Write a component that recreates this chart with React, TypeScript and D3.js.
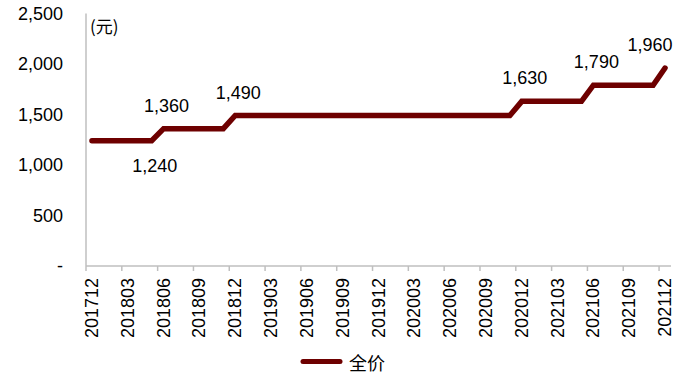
import { useEffect, useRef } from 'react';
import * as d3 from 'd3';

// monthly categories, 201712 .. 202112
const months = [
  '201712', '201801', '201802', '201803', '201804', '201805', '201806', '201807', '201808', '201809',
  '201810', '201811', '201812', '201901', '201902', '201903', '201904', '201905', '201906', '201907',
  '201908', '201909', '201910', '201911', '201912', '202001', '202002', '202003', '202004', '202005',
  '202006', '202007', '202008', '202009', '202010', '202011', '202012', '202101', '202102', '202103',
  '202104', '202105', '202106', '202107', '202108', '202109', '202110', '202111', '202112',
];

// 全价 (元)
const fullPrice = [
  1240, 1240, 1240, 1240, 1240, 1240, 1360, 1360, 1360, 1360,
  1360, 1360, 1490, 1490, 1490, 1490, 1490, 1490, 1490, 1490,
  1490, 1490, 1490, 1490, 1490, 1490, 1490, 1490, 1490, 1490,
  1490, 1490, 1490, 1490, 1490, 1490, 1630, 1630, 1630, 1630,
  1630, 1630, 1790, 1790, 1790, 1790, 1790, 1790, 1960,
];

const yTicks = [0, 500, 1000, 1500, 2000, 2500];
// months that carry a value label; the first one sits below the line
const labelMonths = ['201805', '201806', '201812', '202012', '202106', '202112'];
const labelBelow = ['201805'];

const seriesName = '全价';
const unitLabel = '(元)';

export default function App() {
  const svgRef = useRef<SVGSVGElement>(null);

  useEffect(() => {
    document.body.style.margin = '0';
    const width = 700;
    const height = 389;
    const margin = { top: 13.5, right: 29, bottom: 123, left: 86 };
    const color = '#6e0000';
    const font = '"Liberation Sans", Arial, sans-serif';
    const cjk = '"Noto Sans CJK SC", sans-serif';

    const svg = d3.select(svgRef.current!);
    svg.selectAll('*').remove();

    const x = d3.scaleBand<string>().domain(months)
      .range([margin.left, width - margin.right]);
    const y = d3.scaleLinear().domain([0, 2500])
      .range([height - margin.bottom, margin.top]);
    const cx = (m: string) => (x(m) ?? 0) + x.bandwidth() / 2;
    const y0 = y(0);

    // axes
    svg.append('line')
      .attr('x1', margin.left).attr('x2', margin.left)
      .attr('y1', y(2500)).attr('y2', y0)
      .attr('stroke', '#bfbfbf').attr('stroke-width', 1.5);
    svg.append('line')
      .attr('x1', margin.left).attr('x2', width - margin.right)
      .attr('y1', y0).attr('y2', y0)
      .attr('stroke', '#bfbfbf').attr('stroke-width', 1.5);

    // x ticks every 3 months, at the left edge of the category
    const shown = months.filter((_, i) => i % 3 === 0);
    svg.append('g').selectAll('line').data(shown).join('line')
      .attr('x1', d => x(d)!).attr('x2', d => x(d)!)
      .attr('y1', y0).attr('y2', y0 + 5)
      .attr('stroke', '#bfbfbf').attr('stroke-width', 1.5);

    svg.append('g').selectAll('text').data(shown).join('text')
      .attr('transform', d => `translate(${cx(d)},${y0 + 12}) rotate(-90)`)
      .attr('text-anchor', 'end')
      .attr('dominant-baseline', 'central')
      .style('font-family', font).style('font-size', '18px').attr('fill', '#000')
      .text(d => d);

    // y tick labels
    const fmt = d3.format(',');
    svg.append('g').selectAll('text').data(yTicks).join('text')
      .attr('x', 63).attr('y', d => y(d))
      .attr('text-anchor', 'end')
      .attr('dominant-baseline', 'central')
      .style('font-family', font).style('font-size', '18px').attr('fill', '#000')
      .text(d => (d === 0 ? '-' : fmt(d)));

    svg.append('text')
      .attr('x', 90).attr('y', 25)
      .attr('dominant-baseline', 'central')
      .style('font-family', cjk).style('font-size', '17px').attr('fill', '#000')
      .text(unitLabel);

    // line
    const line = d3.line<number>()
      .x((_, i) => cx(months[i]))
      .y(d => y(d));
    svg.append('path')
      .datum(fullPrice)
      .attr('d', line)
      .attr('fill', 'none')
      .attr('stroke', color)
      .attr('stroke-width', 5.5)
      .attr('stroke-linejoin', 'miter')
      .attr('stroke-linecap', 'round');

    // value labels
    svg.append('g').selectAll('text').data(labelMonths).join('text')
      .attr('x', m => cx(m) + (m === '202112' ? -15 : 3))
      .attr('y', m => {
        const v = fullPrice[months.indexOf(m)];
        return y(v) + (labelBelow.includes(m) ? 25 : -23);
      })
      .attr('text-anchor', 'middle')
      .attr('dominant-baseline', 'central')
      .style('font-family', font).style('font-size', '18px').attr('fill', '#000')
      .text(m => fmt(fullPrice[months.indexOf(m)]));

    // legend
    const lg = svg.append('g');
    lg.append('line')
      .attr('x1', 303).attr('x2', 340)
      .attr('y1', 361.5).attr('y2', 361.5)
      .attr('stroke', color).attr('stroke-width', 5).attr('stroke-linecap', 'round');
    lg.append('text')
      .attr('x', 349).attr('y', 362)
      .attr('dominant-baseline', 'central')
      .style('font-family', cjk).style('font-size', '18px').attr('fill', '#000')
      .text(seriesName);
  }, []);

  return <svg ref={svgRef} width={700} height={389} style={{ display: 'block', background: '#fff' }} />;
}
